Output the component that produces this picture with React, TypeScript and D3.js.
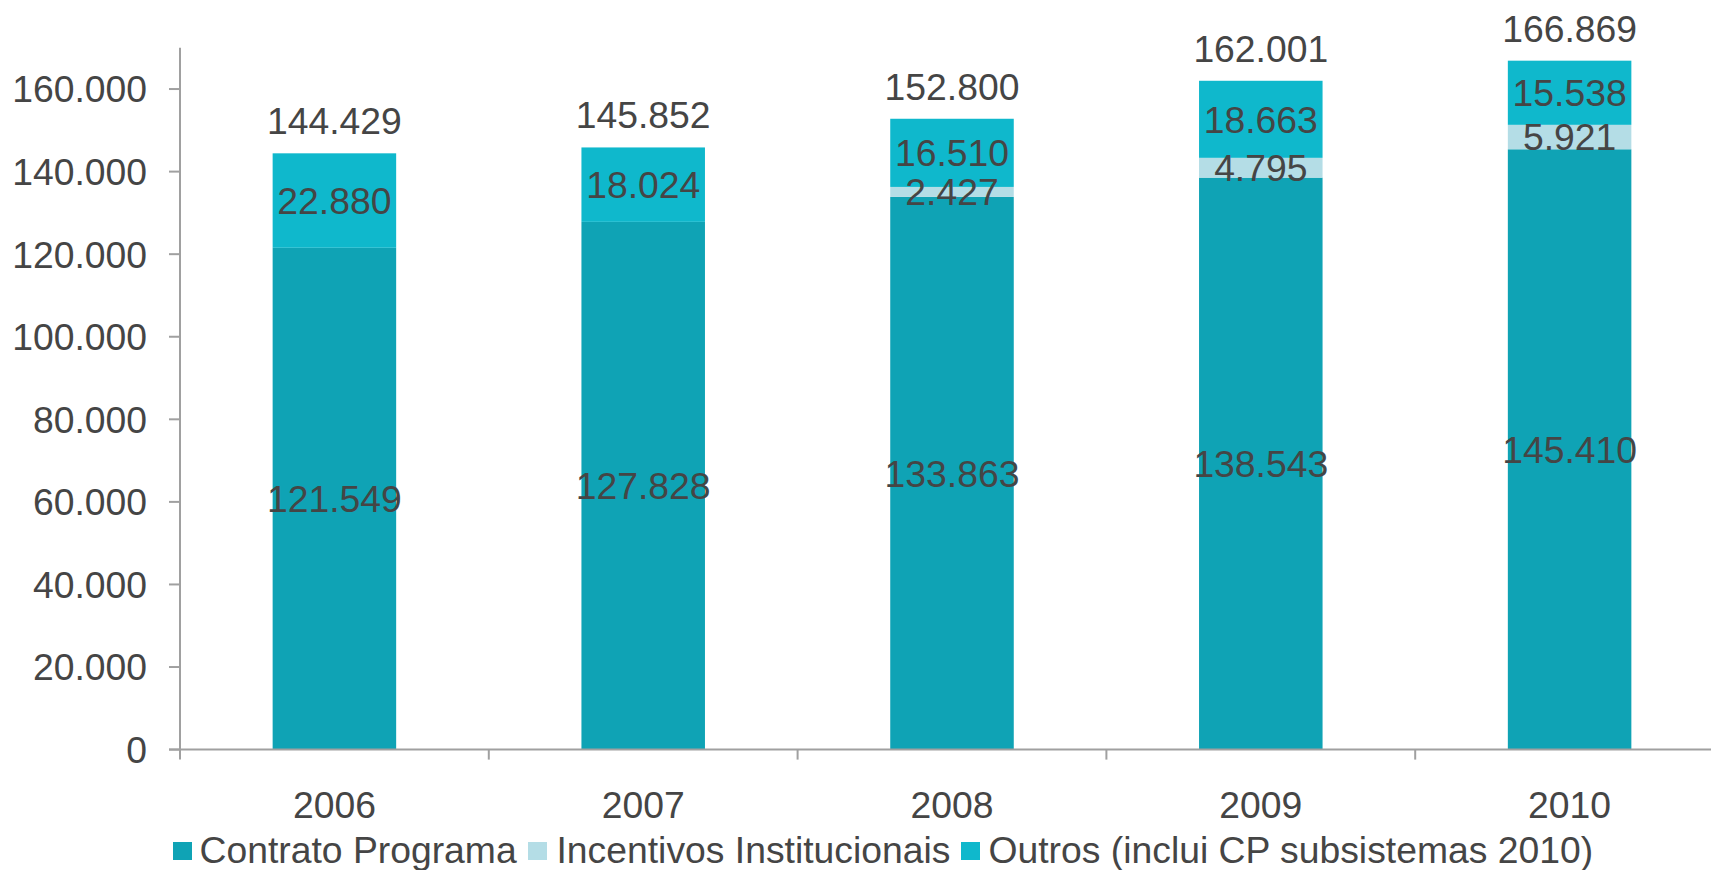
import React from "react";
import * as d3 from "d3";

const years = ["2006", "2007", "2008", "2009", "2010"];
const contratoPrograma = [121549, 127828, 133863, 138543, 145410];
const incentivos = [0, 0, 2427, 4795, 5921];
const outros = [22880, 18024, 16510, 18663, 15538];
const yTicks = [0, 20000, 40000, 60000, 80000, 100000, 120000, 140000, 160000];
const seriesNames = ["Contrato Programa", "Incentivos Institucionais", "Outros (inclui CP subsistemas 2010)"];
const colors = ["#0fa3b5", "#b4dde6", "#0fb8cc"];

const W = 1711;
const H = 870;
const left = 180;
const right = 1724;
const top = 47.75;
const bottom = 749.6;
const FONT = "'Liberation Sans', Arial, sans-serif";
const TEXT = "#454545";
const AXIS = "#a0a0a0";
const FS = 37.3;

const fmt = (v: number) => {
  const s = Math.round(v).toString();
  return s.replace(/\B(?=(\d{3})+(?!\d))/g, ".");
};

export default function App() {
  const x = d3.scaleBand<string>().domain(years).range([left, right]).paddingInner(0).paddingOuter(0);
  const y = d3.scaleLinear().domain([0, 170000]).range([bottom, top]);
  const bw = x.bandwidth() * 0.4;
  const series = [contratoPrograma, incentivos, outros];
  const rows = years.map((yr, i) => ({ yr, v: series.map((s) => s[i]) }));
  const stack = d3.stack<any>().keys(["0", "1", "2"]).value((d: any, k: string) => d.v[+k]);
  const stacked = stack(rows as any);

  const legendItems = [
    { sx: 173, tx: 199.5 },
    { sx: 528, tx: 556.5 },
    { sx: 961, tx: 988.5 },
  ];

  return (
    <svg width={W} height={H} style={{ position: "absolute", left: 0, top: 0, background: "#fff" }} fontFamily={FONT}>
      {stacked.map((layer, si) => (
        <g key={si}>
          {layer.map((d, i) => {
            const val = d[1] - d[0];
            if (val <= 0) return null;
            const bx = (x(years[i]) as number) + x.bandwidth() / 2 - bw / 2;
            return (
              <rect key={i} x={bx} y={y(d[1])} width={bw} height={y(d[0]) - y(d[1])} fill={colors[si]} />
            );
          })}
        </g>
      ))}
      {stacked.map((layer, si) => (
        <g key={"l" + si}>
          {layer.map((d, i) => {
            const val = d[1] - d[0];
            if (val <= 0) return null;
            const cx = (x(years[i]) as number) + x.bandwidth() / 2;
            return (
              <text key={i} x={cx} y={(y(d[0]) + y(d[1])) / 2} dy="0.36em" textAnchor="middle" fontSize={FS} fill={TEXT}>
                {fmt(val)}
              </text>
            );
          })}
        </g>
      ))}
      {rows.map((r, i) => {
        const tot = r.v.reduce((a, b) => a + b, 0);
        const cx = (x(r.yr) as number) + x.bandwidth() / 2;
        return (
          <text key={"t" + i} x={cx} y={y(tot) - 19} textAnchor="middle" fontSize={FS} fill={TEXT}>
            {fmt(tot)}
          </text>
        );
      })}
      <line x1={left} x2={left} y1={top} y2={bottom} stroke={AXIS} strokeWidth={2} />
      {yTicks.map((t) => (
        <g key={t}>
          <line x1={left - 11} x2={left} y1={y(t)} y2={y(t)} stroke={AXIS} strokeWidth={2} />
          <text x={147} y={y(t)} dy="0.36em" textAnchor="end" fontSize={FS} fill={TEXT}>
            {fmt(t)}
          </text>
        </g>
      ))}
      <line x1={left - 11} x2={right} y1={bottom} y2={bottom} stroke={AXIS} strokeWidth={2} />
      {years.map((yr) => (
        <line key={"xt" + yr} x1={x(yr) as number} x2={x(yr) as number} y1={bottom} y2={bottom + 10} stroke={AXIS} strokeWidth={2} />
      ))}
      {years.map((yr) => (
        <text key={"xl" + yr} x={(x(yr) as number) + x.bandwidth() / 2} y={818} textAnchor="middle" fontSize={FS} fill={TEXT}>
          {yr}
        </text>
      ))}
      {seriesNames.map((n, i) => (
        <g key={"lg" + i}>
          <rect x={legendItems[i].sx} y={842} width={19} height={18} fill={colors[i]} />
          <text x={legendItems[i].tx} y={863} fontSize={FS} fill={TEXT}>
            {n}
          </text>
        </g>
      ))}
    </svg>
  );
}
